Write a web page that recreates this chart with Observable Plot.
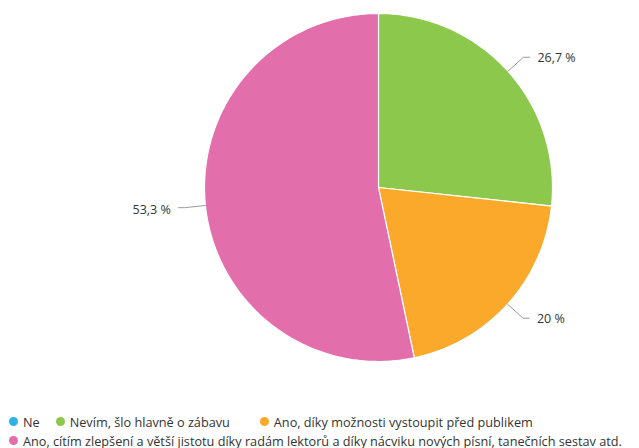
<!DOCTYPE html>
<html>
<head>
<meta charset="utf-8">
<script src="https://cdn.jsdelivr.net/npm/d3@7"></script>
<script src="https://cdn.jsdelivr.net/npm/@observablehq/plot@0.6"></script>
<style>
  html, body { margin: 0; padding: 0; background: #fff; }
  #chart svg { display: block; }
  #legend { font-family: "Open Sans", sans-serif; font-size: 12.7px; color: #333; padding-left: 9px; margin-top: 8px; }
  .row { display: flex; align-items: center; height: 19px; white-space: nowrap; }
  .item { display: inline-flex; align-items: center; margin-right: 16px; }
  .dot { width: 9px; height: 9px; border-radius: 50%; display: inline-block; margin-right: 5px; }
</style>
</head>
<body>
<div id="chart"></div>
<div id="legend"></div>
<script>
const categories = [
  "Ne",
  "Nevím, šlo hlavně o zábavu",
  "Ano, díky možnosti vystoupit před publikem",
  "Ano, cítím zlepšení a větší jistotu díky radám lektorů a díky nácviku nových písní, tanečních sestav atd."
];
const values = [0, 26.7, 20, 53.3];
const valueLabels = ["0 %", "26,7 %", "20 %", "53,3 %"];
const colors = ["#2db1e6", "#8cc84b", "#fba92a", "#e26fac"];
const legendRows = [[0, 1, 2], [3]];
const legendGaps = [16, 30, 0, 0];

const total = d3.sum(values);
const toRad = Math.PI / 180;

const slicePts = [];
const labelData = [];
const leaderPts = [];
let acc = 0;
values.forEach((v, i) => {
  const a0 = acc / total * 360;
  acc += v;
  const a1 = acc / total * 360;
  if (v > 0) {
    slicePts.push({x: 0, y: 0, k: i});
    const n = Math.max(2, Math.ceil(a1 - a0));
    for (let j = 0; j <= n; j++) {
      const a = (a0 + (a1 - a0) * j / n) * toRad;
      slicePts.push({x: Math.sin(a), y: Math.cos(a), k: i});
    }
    slicePts.push({x: 0, y: 0, k: i});
    const am = (a0 + a1) / 2 * toRad;
    const sx = Math.sin(am), sy = Math.cos(am);
    const right = sx >= 0;
    const ex = sx * 1.12, ey = sy * 1.12;
    const hx = ex + (right ? 0.035 : -0.035);
    leaderPts.push({x: sx, y: sy, k: i});
    leaderPts.push({x: ex, y: ey, k: i});
    leaderPts.push({x: hx, y: ey, k: i});
    labelData.push({x: hx + (right ? 0.045 : -0.045), y: ey, text: valueLabels[i], anchor: right ? "start" : "end"});
  }
});

const chart = Plot.plot({
  width: 639,
  height: 404,
  margin: 0,
  x: {domain: [-1, 1], range: [204, 552], axis: null},
  y: {domain: [-1, 1], range: [361, 13], axis: null},
  marks: [
    Plot.line(slicePts, {x: "x", y: "y", z: "k", fill: d => colors[d.k], stroke: "#fff", strokeWidth: 1.2, curve: "linear-closed"}),
    Plot.line(leaderPts, {x: "x", y: "y", z: "k", stroke: "#9a9a9a", strokeWidth: 1, curve: "linear"}),
    Plot.text(labelData.filter(d => d.anchor === "start"), {x: "x", y: "y", dy: 1, text: "text", textAnchor: "start", fontSize: 12.5, fill: "#333", fontFamily: "Open Sans, sans-serif"}),
    Plot.text(labelData.filter(d => d.anchor === "end"), {x: "x", y: "y", dy: 2, text: "text", textAnchor: "end", fontSize: 12.5, fill: "#333", fontFamily: "Open Sans, sans-serif"})
  ]
});
document.getElementById("chart").appendChild(chart);

const legend = document.getElementById("legend");
legendRows.forEach(row => {
  const r = document.createElement("div");
  r.className = "row";
  row.forEach(i => {
    const it = document.createElement("span");
    it.className = "item";
    it.style.marginRight = legendGaps[i] + "px";
    const dot = document.createElement("span");
    dot.className = "dot";
    dot.style.background = colors[i];
    it.appendChild(dot);
    it.appendChild(document.createTextNode(categories[i]));
    r.appendChild(it);
  });
  legend.appendChild(r);
});
</script>
</body>
</html>
